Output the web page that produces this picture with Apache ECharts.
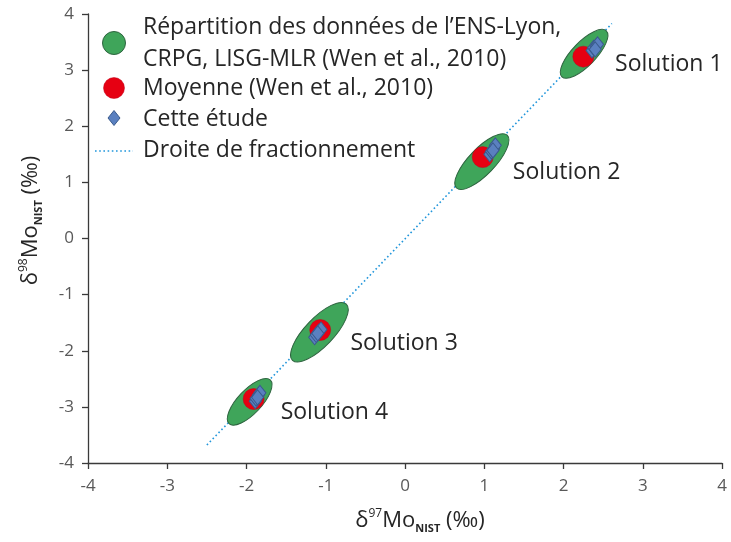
<!DOCTYPE html>
<html>
<head>
<meta charset="utf-8">
<script src="https://cdn.jsdelivr.net/npm/echarts@6/dist/echarts.min.js"></script>
<style>
html,body{margin:0;padding:0;background:#fff}
#main{width:731px;height:542px}
</style>
</head>
<body>
<div id="main"></div>
<script>
//Solutions : répartition des données (ellipses)
var solutionNames = ['Solution 1', 'Solution 2', 'Solution 3', 'Solution 4'];
var ellipseX = [2.26, 0.97, -1.08, -1.96];
var ellipseY = [3.29, 1.37, -1.67, -2.91];
var ellipseSpreadX = [0.28, 0.32, 0.34, 0.26];	//demi grand axe, part δ97
var ellipseSpreadY = [0.41, 0.47, 0.50, 0.39];	//demi grand axe, part δ98
var ellipseWidth = [0.15, 0.165, 0.18, 0.15];	//demi petit axe
//Moyenne (Wen et al., 2010)
var moyenneX = [2.25, 0.98, -1.07, -1.91];
var moyenneY = [3.24, 1.45, -1.63, -2.86];
//Cette étude
var etudeX = [2.36, 2.38, 2.41, 2.43, 2.40,
	1.07, 1.09, 1.12, 1.14, 1.11,
	-1.14, -1.12, -1.09, -1.06, -1.10,
	-1.89, -1.88, -1.85, -1.83, -1.86];
var etudeY = [3.35, 3.40, 3.42, 3.46, 3.37,
	1.50, 1.55, 1.60, 1.66, 1.57,
	-1.76, -1.72, -1.66, -1.62, -1.69,
	-2.90, -2.85, -2.79, -2.75, -2.83];
//Droite de fractionnement
var droiteX = [-2.5, 2.61];
var droiteY = [-3.68, 3.83];

var green = '#3fa55a';
var greenBorder = '#2f6440';
var red = '#e60012';
var blue = '#5a80c0';
var blueBorder = '#3a5a8c';
var lineBlue = '#2196db';
var textColor = '#262626';
var fontName = 'Open Sans';
var textFont = '23px "Open Sans"';

var ellipseData = [];
for (var i = 0; i < ellipseX.length; i++) {
	ellipseData.push([ellipseX[i], ellipseY[i], ellipseSpreadX[i], ellipseSpreadY[i], ellipseWidth[i]]);
}
var moyenneData = moyenneX.map(function (x, i) { return [x, moyenneY[i]]; });
var etudeData = etudeX.map(function (x, i) { return [x, etudeY[i]]; });
var droiteData = droiteX.map(function (x, i) { return [x, droiteY[i]]; });

function renderEllipse(params, api) {
	var c = api.coord([api.value(0), api.value(1)]);
	var t = api.coord([api.value(0) + api.value(2), api.value(1) + api.value(3)]);
	var vx = t[0] - c[0];
	var vy = t[1] - c[1];
	var a = Math.sqrt(vx * vx + vy * vy);
	var b = api.size([api.value(4), 0])[0];
	return {
		type: 'group',
		children: [{
			type: 'ellipse',
			x: c[0],
			y: c[1],
			rotation: Math.atan2(-vy, vx),
			shape: {cx: 0, cy: 0, rx: a, ry: b},
			style: {fill: green, stroke: greenBorder, lineWidth: 1}
		}, {
			type: 'text',
			x: c[0] + 31,
			y: c[1] + 11,
			style: {
				text: solutionNames[params.dataIndex],
				fill: textColor,
				font: textFont,
				align: 'left', textAlign: 'left',
				verticalAlign: 'middle', textVerticalAlign: 'middle'
			}
		}]
	};
}

var nameRich = {
	m: {fontSize: 22, fontFamily: fontName, color: textColor, lineHeight: 26},
	sup: {fontSize: 12, fontFamily: fontName, color: textColor, lineHeight: 12, verticalAlign: 'top'},
	sub: {fontSize: 11, fontFamily: fontName, fontWeight: 'bold', color: textColor, lineHeight: 11, verticalAlign: 'bottom'}
};

function axisCommon() {
	return {
		type: 'value',
		min: -4,
		max: 4,
		interval: 1,
		nameLocation: 'middle',
		axisLine: {show: true, onZero: false, lineStyle: {color: '#3a3a3a', width: 1.3}},
		axisTick: {show: true, inside: false, length: 6, lineStyle: {color: '#3a3a3a', width: 1.3}},
		splitLine: {show: false},
		axisLabel: {fontSize: 17, fontFamily: fontName, color: '#595959'}
	};
}

var xAxis = axisCommon();
xAxis.name = '{m|δ}{sup|97}{m|Mo}{sub|NIST}{m| (‰)}';
xAxis.nameGap = 45;
xAxis.nameTextStyle = {rich: nameRich, padding: [0, 0, 0, 30]};
xAxis.axisLabel.margin = 15;

var yAxis = axisCommon();
yAxis.name = '{m|δ}{sup|98}{m|Mo}{sub|NIST}{m| (‰)}';
yAxis.nameGap = 44;
yAxis.nameTextStyle = {rich: nameRich, padding: [0, 0, 0, 36]};
yAxis.axisLabel.margin = 14;

var option = {
	backgroundColor: '#fff',
	animation: false,
	grid: {left: 88, right: 9, top: 14, bottom: 79, containLabel: false},
	xAxis: xAxis,
	yAxis: yAxis,
	series: [{
		name: 'Droite de fractionnement',
		type: 'line',
		data: droiteData,
		symbol: 'none',
		lineStyle: {color: lineBlue, width: 1.6, type: [1.6, 2.6]},
		z: 1
	}, {
		name: 'Répartition',
		type: 'custom',
		renderItem: renderEllipse,
		data: ellipseData,
		encode: {x: 0, y: 1},
		z: 2
	}, {
		name: 'Moyenne (Wen et al., 2010)',
		type: 'scatter',
		data: moyenneData,
		symbol: 'circle',
		symbolSize: 21,
		itemStyle: {color: red, borderColor: '#c0001a', borderWidth: 0.5, opacity: 1},
		z: 3
	}, {
		name: 'Cette étude',
		type: 'scatter',
		data: etudeData,
		symbol: 'diamond',
		symbolSize: [12, 15],
		itemStyle: {color: blue, borderColor: blueBorder, borderWidth: 1, opacity: 1},
		z: 4
	}],
	//légende dessinée à la main
	graphic: [{
		type: 'circle',
		shape: {cx: 114, cy: 43, r: 11.5},
		style: {fill: green, stroke: greenBorder, lineWidth: 1}
	}, {
		type: 'text',
		x: 143,
		y: 43,
		style: {
			text: 'Répartition des données de l’ENS-Lyon,\nCRPG, LISG-MLR (Wen et al., 2010)',
			font: textFont, fill: textColor, lineHeight: 32,
			verticalAlign: 'middle', textVerticalAlign: 'middle'
		}
	}, {
		type: 'circle',
		shape: {cx: 114, cy: 88, r: 10.5},
		style: {fill: red, stroke: '#c0001a', lineWidth: 0.5}
	}, {
		type: 'text',
		x: 143,
		y: 88,
		style: {
			text: 'Moyenne (Wen et al., 2010)',
			font: textFont, fill: textColor,
			verticalAlign: 'middle', textVerticalAlign: 'middle'
		}
	}, {
		type: 'polygon',
		shape: {points: [[114, 110.5], [120, 118], [114, 125.5], [108, 118]]},
		style: {fill: blue, stroke: blueBorder, lineWidth: 1}
	}, {
		type: 'text',
		x: 143,
		y: 119,
		style: {
			text: 'Cette étude',
			font: textFont, fill: textColor,
			verticalAlign: 'middle', textVerticalAlign: 'middle'
		}
	}, {
		type: 'line',
		shape: {x1: 95, y1: 151, x2: 133, y2: 151},
		style: {stroke: lineBlue, lineWidth: 1.6, lineDash: [1.6, 2.6]}
	}, {
		type: 'text',
		x: 143,
		y: 150,
		style: {
			text: 'Droite de fractionnement',
			font: textFont, fill: textColor,
			verticalAlign: 'middle', textVerticalAlign: 'middle'
		}
	}]
};

echarts.init(document.getElementById('main')).setOption(option);
</script>
</body>
</html>
